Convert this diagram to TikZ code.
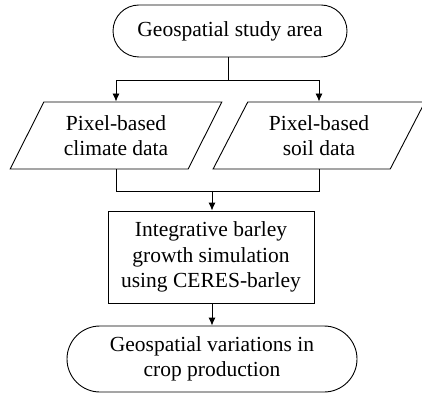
\documentclass[tikz,border=0pt]{standalone}
\usepackage{fontspec}
\setmainfont{Liberation Serif}
\usetikzlibrary{arrows.meta}
\usetikzlibrary{shapes.geometric,shapes.misc}
\usetikzlibrary{positioning}

\begin{document}
\begin{tikzpicture}[x=1pt,y=-1pt,
	every node/.style={font=\fontsize{21.5}{25.5}\selectfont, align=center, inner sep=0pt, line width=0.9pt},
	terminal/.style={draw, rounded rectangle},
	datain/.style={draw, trapezium, trapezium stretches=true, trapezium left angle=59, trapezium right angle=121, minimum width=212pt, minimum height=67pt},
	process/.style={draw, rectangle},
	flow/.style={line width=0.9pt, -{Latex[length=8pt,width=7pt]}},
	link/.style={line width=0.9pt}]
	\useasboundingbox (0,0) rectangle (422,395);
	% draw nodes
	\node[terminal, minimum width=234pt, minimum height=52pt] (area) at (230,31) {Geospatial study area};
	\node[datain] (climate) at (116,135.5) {Pixel-based\\climate data};
	\node[datain] (soil) at (319,135.5) {Pixel-based\\soil data};
	\node[process, minimum width=206pt, minimum height=92pt] (sim) at (211,257) {Integrative barley\\growth simulation\\using CERES-barley};
	\node[terminal, minimum width=290pt, minimum height=66pt] (out) at (212,359) {Geospatial variations in\\crop production};
	% split and join points
	\coordinate (split) at (228,80);
	\coordinate (join) at (212,191);
	% draw connectors
	\draw[link] (area.south -| split) -- (split);
	\draw[flow] (split) -| (climate.north);
	\draw[flow] (split) -| (soil.north);
	\draw[link] (climate.south) |- (join);
	\draw[link] (soil.south) |- (join);
	\draw[flow] (join) -- (sim.north -| join);
	\draw[flow] (sim.south -| join) -- (out.north -| join);
\end{tikzpicture}
\end{document}
